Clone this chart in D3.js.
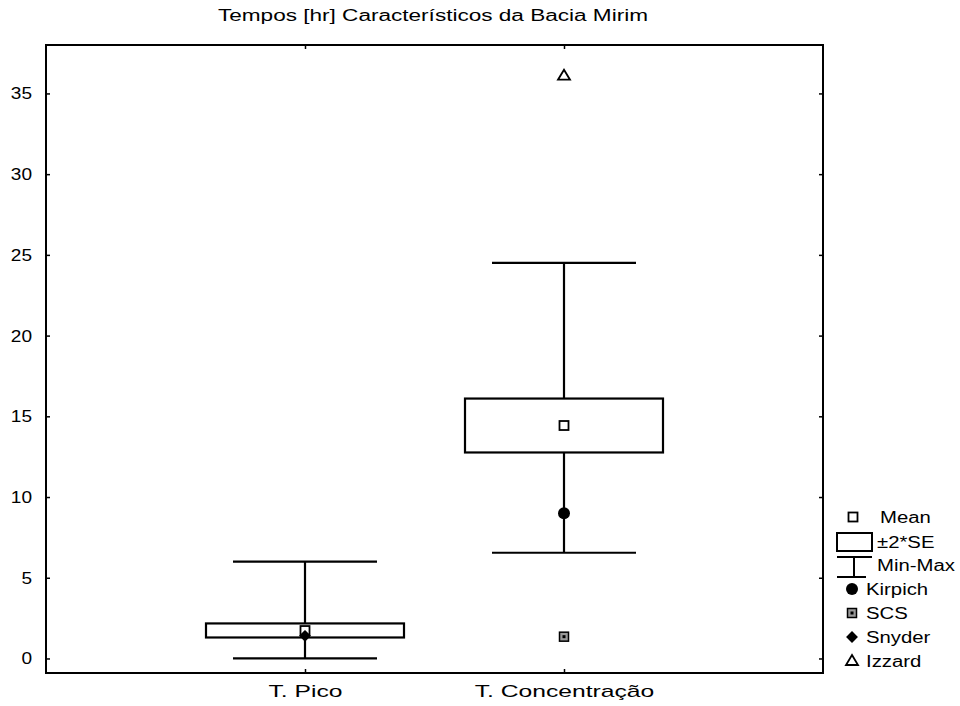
<!DOCTYPE html>
<html><head><meta charset="utf-8">
<script src="https://cdn.jsdelivr.net/npm/d3@7"></script>
<style>body{margin:0;background:#fff}svg{display:block}text{font-family:"Liberation Sans",Arial,sans-serif;fill:#000}</style>
</head><body><div id="chart"></div>
<script>
const title = "Tempos [hr] Característicos da Bacia Mirim";
const categories = ["T. Pico", "T. Concentração"];
const means = [1.73, 14.43];
const seLow = [1.3, 12.76];
const seHigh = [2.17, 16.1];
const minVals = [0.0, 6.55];
const maxVals = [6.0, 24.5];
// method points: [categoryIndex, value]
const kirpich = [[1, 9.0]];
const scs = [[1, 1.35]];
const snyder = [[0, 1.4]];
const izzard = [[1, 36.1]];
const yTicks = [0, 5, 10, 15, 20, 25, 30, 35];
const legendLabels = ["Mean", "±2*SE", "Min-Max", "Kirpich", "SCS", "Snyder", "Izzard"];

const W = 960, H = 706;
const m = {left: 46, top: 45, right: 823, bottom: 673};
const svg = d3.select("#chart").append("svg").attr("width", W).attr("height", H);

const x = d3.scalePoint().domain(categories).range([m.left, m.right]).padding(1);
const y = d3.scaleLinear().domain([-0.9, 38]).range([m.bottom, m.top]);

function stretch(sel, f) {
  sel.each(function () {
    const w = this.getComputedTextLength();
    d3.select(this).attr("textLength", w * f).attr("lengthAdjust", "spacingAndGlyphs");
  });
}

svg.append("text").attr("x", 433).attr("y", 21).attr("text-anchor", "middle")
  .style("font-size", "16px").attr("textLength", 430).attr("lengthAdjust", "spacingAndGlyphs").text(title);

// frame
svg.append("rect").attr("x", m.left).attr("y", m.top).attr("width", m.right - m.left)
  .attr("height", m.bottom - m.top).attr("fill", "none").attr("stroke", "#000").attr("stroke-width", 2);

// y axis (inward ticks)
const yAxis = d3.axisLeft(y).tickValues(yTicks).tickSize(-4).tickPadding(14);
const ya = svg.append("g").attr("transform", `translate(${m.left},0)`).call(yAxis);
ya.select(".domain").remove();
ya.selectAll("text").style("font-size", "17px").attr("fill", "#000").call(stretch, 1.12);
ya.selectAll("line").attr("stroke", "#000").attr("stroke-width", 1.5);

// right axis ticks
const yr = svg.append("g").attr("transform", `translate(${m.right},0)`).call(d3.axisRight(y).tickValues(yTicks).tickSize(-4).tickFormat(""));
yr.select(".domain").remove();
yr.selectAll("line").attr("stroke", "#000").attr("stroke-width", 1.5);

// x axis
const xAxis = d3.axisBottom(x).tickSize(-4).tickPadding(12);
const xa = svg.append("g").attr("transform", `translate(0,${m.bottom})`).call(xAxis);
xa.select(".domain").remove();
xa.selectAll("text").style("font-size", "17px").attr("fill", "#000").call(stretch, 1.45);
xa.selectAll("line").attr("stroke", "#000").attr("stroke-width", 1.5);
const xt = svg.append("g").attr("transform", `translate(0,${m.top})`).call(d3.axisTop(x).tickSize(-4).tickFormat(""));
xt.select(".domain").remove();
xt.selectAll("line").attr("stroke", "#000").attr("stroke-width", 1.5);

const boxHalf = 99, capHalf = 72;
const g = svg.append("g").attr("stroke", "#000").attr("stroke-width", 2.2).attr("fill", "none");
categories.forEach((c, i) => {
  const cx = x(c);
  g.append("line").attr("x1", cx).attr("x2", cx).attr("y1", y(maxVals[i])).attr("y2", y(seHigh[i]));
  g.append("line").attr("x1", cx).attr("x2", cx).attr("y1", y(seLow[i])).attr("y2", y(minVals[i]));
  g.append("line").attr("x1", cx - capHalf).attr("x2", cx + capHalf).attr("y1", y(maxVals[i])).attr("y2", y(maxVals[i]));
  g.append("line").attr("x1", cx - capHalf).attr("x2", cx + capHalf).attr("y1", y(minVals[i])).attr("y2", y(minVals[i]));
  g.append("rect").attr("x", cx - boxHalf).attr("y", y(seHigh[i])).attr("width", 2 * boxHalf)
    .attr("height", y(seLow[i]) - y(seHigh[i])).attr("fill", "#fff");
});

function marker(sel, type, cx, cy) {
  if (type === "mean") sel.append("rect").attr("x", cx - 4.5).attr("y", cy - 4.5).attr("width", 9).attr("height", 9)
    .attr("fill", "#fff").attr("stroke", "#000").attr("stroke-width", 1.8);
  else if (type === "kirpich") sel.append("circle").attr("cx", cx).attr("cy", cy).attr("r", 6).attr("fill", "#000");
  else if (type === "scs") {
    sel.append("rect").attr("x", cx - 4.5).attr("y", cy - 4.5).attr("width", 9).attr("height", 9)
      .attr("fill", "#999").attr("stroke", "#000").attr("stroke-width", 1.5);
    sel.append("rect").attr("x", cx - 1.5).attr("y", cy - 1.5).attr("width", 3).attr("height", 3).attr("fill", "#000");
  }
  else if (type === "snyder") sel.append("path").attr("d", d3.symbol(d3.symbolDiamond2, 90)()).attr("transform", `translate(${cx},${cy})`).attr("fill", "#000");
  else if (type === "izzard") sel.append("path").attr("d", `M${cx},${cy - 6}L${cx + 6},${cy + 4}L${cx - 6},${cy + 4}Z`)
    .attr("fill", "#fff").attr("stroke", "#000").attr("stroke-width", 1.8);
}
const mk = svg.append("g");
categories.forEach((c, i) => marker(mk, "mean", x(c), y(means[i])));
snyder.forEach(d => marker(mk, "snyder", x(categories[d[0]]), y(d[1])));
kirpich.forEach(d => marker(mk, "kirpich", x(categories[d[0]]), y(d[1])));
scs.forEach(d => marker(mk, "scs", x(categories[d[0]]), y(d[1])));
izzard.forEach(d => marker(mk, "izzard", x(categories[d[0]]), y(d[1])));

// legend
const lg = svg.append("g");
const ly = [517, 542, 565, 589, 613, 637, 661];
const lx = [880, 877, 877, 866, 866, 866, 866];
marker(lg, "mean", 853, 517);
lg.append("rect").attr("x", 837).attr("y", 533).attr("width", 35).attr("height", 18).attr("fill", "#fff").attr("stroke", "#000").attr("stroke-width", 2);
lg.append("line").attr("x1", 837).attr("x2", 872).attr("y1", 557).attr("y2", 557).attr("stroke", "#000").attr("stroke-width", 2);
lg.append("line").attr("x1", 854).attr("x2", 854).attr("y1", 557).attr("y2", 577).attr("stroke", "#000").attr("stroke-width", 2);
lg.append("line").attr("x1", 837).attr("x2", 866).attr("y1", 577).attr("y2", 577).attr("stroke", "#000").attr("stroke-width", 2);
marker(lg, "kirpich", 852, 589);
marker(lg, "scs", 852, 613);
marker(lg, "snyder", 852, 637);
marker(lg, "izzard", 852, 661);
legendLabels.forEach((t, i) => lg.append("text").attr("x", lx[i]).attr("y", ly[i]).attr("dy", "0.35em")
  .style("font-size", "16px").text(t));
lg.selectAll("text").call(stretch, 1.27);
</script></body></html>
